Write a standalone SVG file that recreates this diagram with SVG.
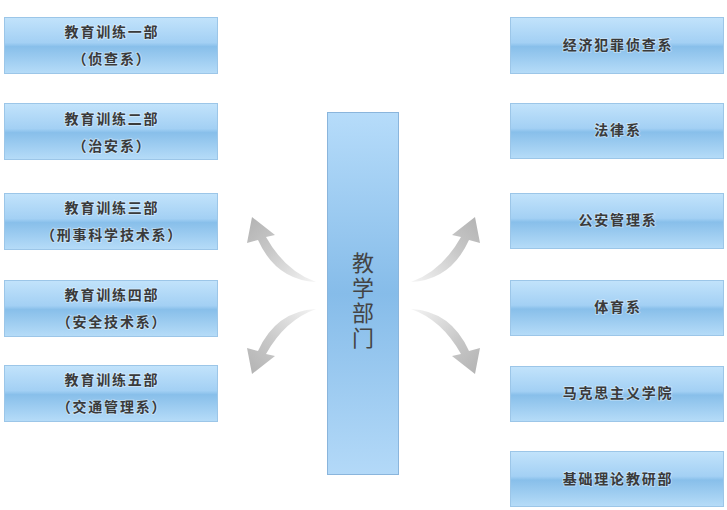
<svg xmlns="http://www.w3.org/2000/svg" width="727" height="510" viewBox="0 0 727 510">
<defs>
<linearGradient id="gBox" x1="0" y1="0" x2="0" y2="1">
<stop offset="0" stop-color="#c2e3fb"/>
<stop offset="0.45" stop-color="#a3d0f4"/>
<stop offset="0.52" stop-color="#88bfea"/>
<stop offset="1" stop-color="#b6dcf8"/>
</linearGradient>
<linearGradient id="gCenter" x1="0" y1="0" x2="0" y2="1">
<stop offset="0" stop-color="#b6dcfa"/>
<stop offset="0.5" stop-color="#86bce9"/>
<stop offset="1" stop-color="#b3d9f8"/>
</linearGradient>
<linearGradient id="gArrow" x1="316" y1="282" x2="252" y2="217" gradientUnits="userSpaceOnUse">
<stop offset="0" stop-color="#f4f4f4"/>
<stop offset="0.6" stop-color="#c8c8c8"/>
<stop offset="1" stop-color="#b4b4b4"/>
</linearGradient>
<path id="arr" d="M316,282 Q276,280 258,240 L247,243 L252,217 L275,235 L266,237 Q285,271 316,282 Z"/>
</defs>
<style>
.box{fill:url(#gBox);stroke:#9cc6e8;stroke-width:1}
.t{font-family:"Noto Sans CJK SC","Noto Sans",sans-serif;font-size:14px;font-weight:bold;letter-spacing:1.8px;fill:#3a3a3a;text-anchor:middle;stroke:#ffffff;stroke-width:2px;stroke-opacity:0.35;paint-order:stroke}
.c{font-family:"Noto Sans CJK SC","Noto Sans",sans-serif;font-size:22px;letter-spacing:3px;fill:#444;writing-mode:vertical-rl}
.a{fill:url(#gArrow)}
</style>
<rect width="727" height="510" fill="#ffffff"/>
<g id="connectors">
<use href="#arr" class="a"/>
<use href="#arr" class="a" transform="translate(0,591) scale(1,-1)"/>
<use href="#arr" class="a" transform="translate(727,0) scale(-1,1)"/>
<use href="#arr" class="a" transform="translate(727,591) scale(-1,-1)"/>
</g>
<g id="center">
<rect x="327.5" y="112.5" width="71" height="362" fill="url(#gCenter)" stroke="#8ab5dc"/>
<text class="c" x="363" y="252">教学部门</text>
</g>
<g id="l1"><rect class="box" x="4.5" y="17.5" width="213" height="56"/><text class="t" x="112" y="37">教育训练一部</text><text class="t" x="112" y="64">（侦查系）</text></g>
<g id="l2"><rect class="box" x="4.5" y="103.5" width="213" height="56"/><text class="t" x="112" y="124">教育训练二部</text><text class="t" x="112" y="151">（治安系）</text></g>
<g id="l3"><rect class="box" x="4.5" y="193.5" width="213" height="56"/><text class="t" x="112" y="213">教育训练三部</text><text class="t" x="112" y="240">（刑事科学技术系）</text></g>
<g id="l4"><rect class="box" x="4.5" y="280.5" width="213" height="56"/><text class="t" x="112" y="300">教育训练四部</text><text class="t" x="112" y="327">（安全技术系）</text></g>
<g id="l5"><rect class="box" x="4.5" y="365.5" width="213" height="56"/><text class="t" x="112" y="385">教育训练五部</text><text class="t" x="112" y="412">（交通管理系）</text></g>
<g id="r1"><rect class="box" x="510.5" y="17.5" width="213" height="56"/><text class="t" x="618" y="50">经济犯罪侦查系</text></g>
<g id="r2"><rect class="box" x="510.5" y="103.5" width="213" height="55"/><text class="t" x="618" y="135">法律系</text></g>
<g id="r3"><rect class="box" x="510.5" y="193.5" width="213" height="55"/><text class="t" x="618" y="225">公安管理系</text></g>
<g id="r4"><rect class="box" x="510.5" y="280.5" width="213" height="55"/><text class="t" x="618" y="312">体育系</text></g>
<g id="r5"><rect class="box" x="510.5" y="366.5" width="213" height="55"/><text class="t" x="618" y="398">马克思主义学院</text></g>
<g id="r6"><rect class="box" x="510.5" y="451.5" width="213" height="55"/><text class="t" x="618" y="484">基础理论教研部</text></g>
</svg>
